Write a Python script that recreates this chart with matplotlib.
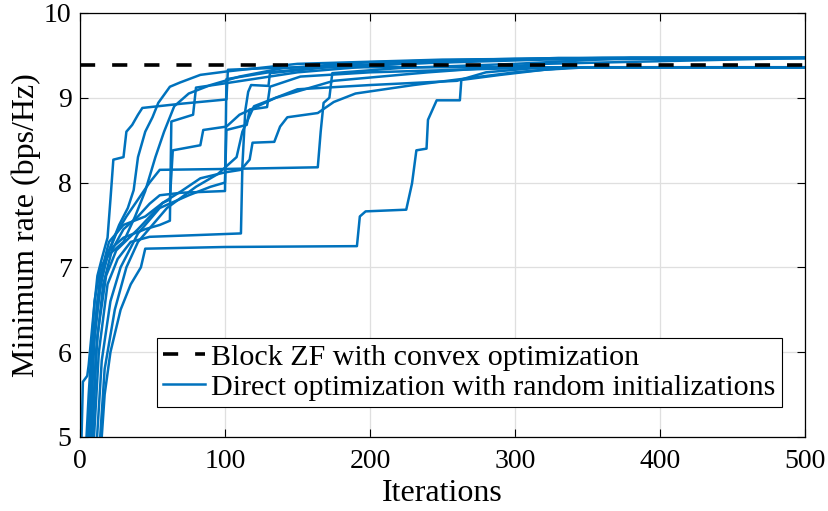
import matplotlib
matplotlib.use("Agg")
import matplotlib.pyplot as plt

plt.rcParams['font.family'] = ['Liberation Serif', 'DejaVu Serif']
plt.rcParams['mathtext.fontset'] = 'stix'

# benchmark level
zf_rate = 9.39

# each run: (iterations, minimum rate) breakpoints
run_x = [
    [0.5, 2, 5, 6, 9, 12, 15, 19, 21, 23, 30, 32, 36, 40, 43, 70, 101, 102, 130, 160, 260, 500],
    [5, 9, 14, 20, 27, 33, 37, 40, 45, 50, 54, 62, 69, 83, 101, 150, 250, 380, 500],
    [7, 11, 16, 22, 30, 40, 48, 55, 70, 100, 101, 130, 180, 280, 360, 500],
    [8, 13, 19, 26, 35, 48, 80, 111, 112, 114, 116, 118, 130, 131, 170, 250, 330, 500],
    [4, 8, 12, 18, 25, 32, 40, 48, 55, 100, 164, 166, 168, 172, 174, 220, 300, 380, 500],
    [13, 17, 21, 28, 35, 42, 45, 100, 191, 193, 197, 225, 229, 232, 239, 240, 246, 262, 263, 290, 320, 350, 500],
    [6, 10, 15, 20, 30, 45, 55, 62, 63, 78, 80, 100, 150, 220, 320, 500],
    [10, 15, 21, 28, 40, 55, 75, 90, 100, 101, 115, 117, 129, 131, 152, 200, 280, 330, 500],
    [5, 9, 14, 20, 30, 45, 57, 62, 64, 83, 85, 101, 110, 135, 175, 240, 320, 500],
    [7, 12, 18, 25, 40, 57, 70, 83, 100, 111, 117, 119, 134, 138, 143, 164, 175, 190, 230, 300, 340, 500],
    [12, 17, 24, 32, 40, 50, 60, 80, 95, 108, 112, 120, 150, 200, 260, 280, 320, 500],
    [3, 6, 10, 14, 20, 30, 38, 45, 52, 58, 65, 75, 90, 110, 140, 200, 300, 380, 500],
]
run_y = [
    [4.6, 5.65, 5.72, 5.85, 6.4, 6.9, 7.1, 7.35, 7.8, 8.27, 8.3, 8.6, 8.68, 8.8, 8.88, 8.93, 8.98, 9.33, 9.35, 9.36, 9.36, 9.36],
    [4.5, 6.0, 6.8, 7.2, 7.5, 7.7, 7.91, 8.3, 8.6, 8.77, 8.94, 9.13, 9.18, 9.27, 9.31, 9.4, 9.45, 9.47, 9.47],
    [4.5, 6.0, 6.8, 7.2, 7.45, 7.6, 7.75, 7.85, 7.88, 7.9, 9.22, 9.3, 9.38, 9.45, 9.47, 9.47],
    [4.5, 6.0, 6.8, 7.1, 7.3, 7.36, 7.38, 7.4, 8.2, 8.85, 9.07, 9.15, 9.14, 9.29, 9.36, 9.42, 9.47, 9.47],
    [4.5, 5.8, 6.6, 7.1, 7.4, 7.6, 7.8, 8.0, 8.15, 8.16, 8.18, 8.6, 8.94, 9.0, 9.29, 9.35, 9.4, 9.47, 9.47],
    [4.5, 5.5, 6.0, 6.5, 6.8, 7.0, 7.22, 7.24, 7.25, 7.6, 7.66, 7.68, 7.99, 8.38, 8.4, 8.74, 8.97, 8.97, 9.21, 9.27, 9.33, 9.36, 9.36],
    [4.5, 6.2, 6.9, 7.2, 7.35, 7.45, 7.5, 7.55, 8.72, 8.8, 9.12, 9.17, 9.3, 9.4, 9.45, 9.47],
    [4.5, 5.9, 6.6, 7.0, 7.4, 7.7, 7.85, 7.95, 8.0, 8.62, 8.68, 8.86, 8.89, 9.13, 9.25, 9.3, 9.34, 9.36, 9.36],
    [4.5, 6.1, 6.9, 7.3, 7.5, 7.6, 7.76, 7.8, 8.38, 8.44, 8.62, 8.66, 8.8, 9.0, 9.2, 9.3, 9.4, 9.47],
    [4.5, 6.2, 6.9, 7.2, 7.45, 7.76, 7.9, 8.05, 8.12, 8.15, 8.27, 8.47, 8.48, 8.66, 8.77, 8.82, 8.95, 9.05, 9.15, 9.3, 9.36, 9.36],
    [4.5, 5.8, 6.5, 7.0, 7.3, 7.5, 7.7, 7.95, 8.1, 8.3, 8.6, 8.9, 9.1, 9.15, 9.2, 9.3, 9.36, 9.36],
    [4.5, 5.5, 6.6, 7.0, 7.15, 7.3, 7.6, 7.9, 8.3, 8.6, 8.9, 9.05, 9.15, 9.25, 9.35, 9.42, 9.46, 9.47, 9.47],
]

blue = '#0072BD'

fig = plt.figure(figsize=(8.29, 5.11), dpi=100)
ax = fig.add_axes([0.0965, 0.145, 0.8745, 0.8296])

zf_line, = ax.plot([0, 500], [zf_rate, zf_rate], color='k', lw=2.6,
                   dashes=(4.2, 4.7), zorder=3)
for i, (xs, ys) in enumerate(zip(run_x, run_y)):
    ln, = ax.plot(xs, ys, color=blue, lw=1.8, zorder=2)
    if i == 0:
        run_line = ln

ax.set_xlim(0, 500)
ax.set_ylim(5, 10)
ax.set_xticks([0, 100, 200, 300, 400, 500])
ax.set_yticks([5, 6, 7, 8, 9, 10])
ax.grid(True, color='#dfdfdf', lw=0.9)
ax.set_axisbelow(True)
ax.tick_params(direction='in', top=True, right=True, labelsize=20, length=6,
               width=0.8)
ax.tick_params(axis='x', pad=9)
ax.tick_params(axis='y', pad=6)
for s in ax.spines.values():
    s.set_linewidth(0.9)
    s.set_zorder(5)

ax.set_xlabel('Iterations', fontsize=23, labelpad=3)
ax.set_ylabel('Minimum rate (bps/Hz)', fontsize=23, labelpad=2)

leg = ax.legend([zf_line, run_line],
                ['Block ZF with convex optimization',
                 'Direct optimization with random initializations'],
                loc='lower right', bbox_to_anchor=(0.968, 0.071),
                fontsize=21.6, frameon=True, fancybox=False, framealpha=1,
                edgecolor='k', handlelength=1.4, handletextpad=0.2,
                borderpad=0.2, labelspacing=0.1, borderaxespad=0)
leg.get_frame().set_linewidth(0.8)

fig.savefig('out.png', dpi=100)
